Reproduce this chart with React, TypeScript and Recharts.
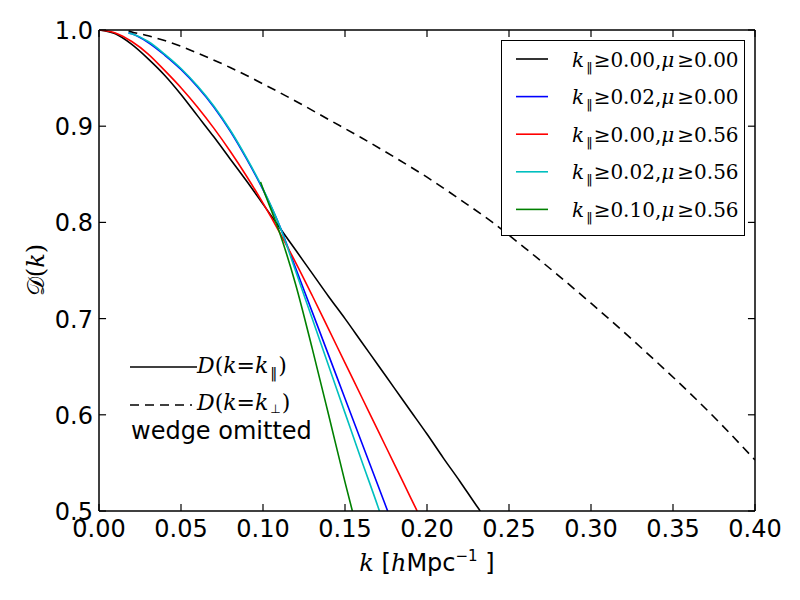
import React from "react";
import { LineChart, Line, XAxis, YAxis, Legend, ReferenceLine } from "recharts";

// window k >= k_par_min, mu >= mu_min
const kBlack = [0, 0.01, 0.02, 0.03, 0.04, 0.05, 0.06, 0.07, 0.08, 0.09, 0.1, 0.11, 0.12, 0.13, 0.14, 0.15, 0.16, 0.17, 0.18, 0.19, 0.2, 0.21, 0.22, 0.23, 0.2325];
const dBlack = [1.0, 0.996, 0.985, 0.97, 0.953, 0.933, 0.911, 0.889, 0.866, 0.843, 0.819, 0.795, 0.771, 0.747, 0.723, 0.7, 0.676, 0.652, 0.628, 0.604, 0.58, 0.555, 0.531, 0.506, 0.5];

const kBlue = [0.018, 0.02, 0.03, 0.04, 0.05, 0.06, 0.07, 0.08, 0.09, 0.1, 0.11, 0.12, 0.13, 0.14, 0.15, 0.16, 0.17, 0.176];
const dBlue = [0.997, 0.996, 0.987, 0.974, 0.959, 0.941, 0.92, 0.895, 0.866, 0.834, 0.797, 0.752, 0.707, 0.662, 0.617, 0.572, 0.527, 0.5];

const kRed = [0, 0.01, 0.02, 0.03, 0.04, 0.05, 0.06, 0.07, 0.08, 0.09, 0.1, 0.11, 0.12, 0.13, 0.14, 0.15, 0.16, 0.17, 0.18, 0.19, 0.194];
const dRed = [1.0, 0.997, 0.988, 0.975, 0.958, 0.94, 0.92, 0.898, 0.874, 0.848, 0.82, 0.79, 0.758, 0.724, 0.689, 0.654, 0.619, 0.584, 0.549, 0.514, 0.5];

const kCyan = [0.018, 0.02, 0.03, 0.04, 0.05, 0.06, 0.07, 0.08, 0.09, 0.1, 0.11, 0.12, 0.13, 0.14, 0.15, 0.16, 0.17, 0.171];
const dCyan = [0.997, 0.996, 0.988, 0.975, 0.96, 0.942, 0.921, 0.896, 0.867, 0.835, 0.797, 0.749, 0.7, 0.651, 0.602, 0.553, 0.505, 0.5];

const kGreen = [0.0985, 0.1, 0.11, 0.12, 0.13, 0.14, 0.15, 0.1545];
const dGreen = [0.842, 0.835, 0.79, 0.735, 0.669, 0.6, 0.53, 0.5];

// D(k = k_perp)
const kPerp = [0.018, 0.02, 0.03, 0.04, 0.05, 0.06, 0.08, 0.1, 0.12, 0.14, 0.16, 0.18, 0.2, 0.22, 0.24, 0.26, 0.28, 0.3, 0.32, 0.34, 0.36, 0.38, 0.4];
const dPerp = [0.999, 0.998, 0.994, 0.989, 0.983, 0.976, 0.961, 0.944, 0.926, 0.907, 0.888, 0.868, 0.847, 0.824, 0.8, 0.773, 0.745, 0.716, 0.686, 0.655, 0.623, 0.589, 0.553];

const kParMin = ["0.00", "0.02", "0.00", "0.02", "0.10"];
const muMin = ["0.00", "0.00", "0.56", "0.56", "0.56"];
const colors = ["#000000", "#0000ff", "#ff0000", "#00bfbf", "#008000"];

const xTicks = [0, 0.05, 0.1, 0.15, 0.2, 0.25, 0.3, 0.35, 0.4];
const yTicks = [0.5, 0.6, 0.7, 0.8, 0.9, 1.0];

const toPoints = (ks: number[], ds: number[]) => ks.map((k, i) => ({ k, d: ds[i] }));

const windows = [
  toPoints(kBlack, dBlack),
  toPoints(kBlue, dBlue),
  toPoints(kRed, dRed),
  toPoints(kCyan, dCyan),
  toPoints(kGreen, dGreen),
];

const SERIF = "DejaVu Serif";
const SANS = "DejaVu Sans";
const PAR = "\u2016";
const X_MARGIN = 9;
const Y_MARGIN = 7;
// inward tick length, in axis units (~7px)
const TICK_DY = 0.0073;
const TICK_DX = 0.0043;

const makeLabel = (side: "bottom" | "left", digits: number) => (props: any) => {
  const { x, y, payload } = props;
  const v = payload.value as number;
  if (side === "bottom") {
    return (
      <text x={x} y={y - X_MARGIN + 26} textAnchor="middle" fontSize={24} fontFamily={SANS} fill="#000">
        {v.toFixed(digits)}
      </text>
    );
  }
  return (
    <text x={x + Y_MARGIN - 6} y={y + 9} textAnchor="end" fontSize={24} fontFamily={SANS} fill="#000">
      {v.toFixed(digits)}
    </text>
  );
};

const XLabel = ({ viewBox }: any) => {
  const cx = viewBox.x + viewBox.width / 2;
  return (
    <text x={cx} y={571} textAnchor="middle" fontSize={24} fill="#000" fontFamily={SANS}>
      <tspan fontFamily={SERIF} fontStyle="italic">k</tspan>
      <tspan> [</tspan>
      <tspan fontFamily={SERIF} fontStyle="italic">h</tspan>
      <tspan>Mpc</tspan>
      <tspan fontSize={15} dy={-10}>−1</tspan>
      <tspan dy={10}> ]</tspan>
    </text>
  );
};

const YLabel = () => (
  <text x={44} y={270} transform="rotate(-90 44 270)" textAnchor="middle" fontSize={24} fill="#000" fontFamily={SERIF}>
    <tspan>𝒟(</tspan>
    <tspan fontStyle="italic">k</tspan>
    <tspan>)</tspan>
  </text>
);

const LegendBox = ({ payload }: any) => {
  const items = (payload || [])
    .filter((p: any) => p.type !== "none")
    .slice()
    .sort((a: any, b: any) => colors.indexOf(a.color) - colors.indexOf(b.color));
  return (
    <div style={{ boxSizing: "border-box", width: 244, height: 196, border: "1.5px solid #000", background: "#fff" }}>
      <svg width={241} height={193} style={{ display: "block" }}>
        {items.map((p: any, i: number) => {
          const cy = 18 + i * 37.6;
          const idx = Math.max(0, colors.indexOf(p.color));
          return (
            <g key={i}>
              <line x1={14} x2={46} y1={cy} y2={cy} stroke={p.color} strokeWidth={1.6} />
              <text x={70} y={cy + 7.5} fontSize={20} fill="#000" fontFamily={SERIF}>
                <tspan fontStyle="italic">k</tspan>
                <tspan fontSize={13} dy={5} dx={2} fontFamily={SANS}>{PAR}</tspan>
                <tspan dy={-5} dx={1}>≥{kParMin[idx]},</tspan>
                <tspan fontStyle="italic">μ</tspan>
                <tspan dx={3}>≥{muMin[idx]}</tspan>
              </text>
            </g>
          );
        })}
      </svg>
    </div>
  );
};

const StyleNote = () => (
  <svg width={800} height={600} style={{ position: "absolute", left: 0, top: 0, pointerEvents: "none" }}>
    <line x1={130} x2={197} y1={367} y2={367} stroke="#000" strokeWidth={1.6} />
    <text x={197} y={373} fontSize={22} fontFamily={SERIF} fill="#000">
      <tspan fontStyle="italic">D</tspan>
      <tspan>(</tspan>
      <tspan fontStyle="italic">k</tspan>
      <tspan>=</tspan>
      <tspan fontStyle="italic">k</tspan>
      <tspan fontSize={14} dy={5} dx={2} fontFamily={SANS}>{PAR}</tspan>
      <tspan dy={-5} dx={1}>)</tspan>
    </text>
    <line x1={130} x2={192} y1={405} y2={405} stroke="#000" strokeWidth={1.6} strokeDasharray="9 6" />
    <text x={197} y={410} fontSize={22} fontFamily={SERIF} fill="#000">
      <tspan fontStyle="italic">D</tspan>
      <tspan>(</tspan>
      <tspan fontStyle="italic">k</tspan>
      <tspan>=</tspan>
      <tspan fontStyle="italic">k</tspan>
      <tspan fontSize={12} dy={3} dx={2} fontFamily={SANS}>⊥</tspan>
      <tspan dy={-3} dx={1}>)</tspan>
    </text>
    <text x={131} y={439} fontSize={24} fontFamily={SANS} fill="#000">wedge omitted</text>
  </svg>
);

export default function App() {
  const tickMark = { stroke: "#000", strokeWidth: 1.2, ifOverflow: "visible" as const };
  return (
    <div style={{ position: "relative", width: 800, height: 600, background: "#fff" }}>
      <style>{"body{margin:0}"}</style>
      <LineChart width={800} height={600} margin={{ top: 29, right: 44, bottom: 29, left: 39 }}>
        <XAxis
          dataKey="k"
          type="number"
          domain={[0, 0.4]}
          ticks={xTicks}
          allowDataOverflow
          tick={makeLabel("bottom", 2)}
          tickLine={false}
          tickSize={0}
          tickMargin={X_MARGIN}
          height={60}
          stroke="#000"
          strokeWidth={1.5}
          label={<XLabel />}
        />
        <XAxis
          xAxisId="top"
          orientation="top"
          type="number"
          domain={[0, 0.4]}
          ticks={xTicks}
          tick={false}
          tickLine={false}
          height={1}
          stroke="#000"
          strokeWidth={1.5}
        />
        <YAxis
          type="number"
          domain={[0.5, 1.0]}
          ticks={yTicks}
          allowDataOverflow
          tick={makeLabel("left", 1)}
          tickLine={false}
          tickSize={0}
          tickMargin={Y_MARGIN}
          width={60}
          stroke="#000"
          strokeWidth={1.5}
          label={<YLabel />}
        />
        <YAxis
          yAxisId="right"
          orientation="right"
          type="number"
          domain={[0.5, 1.0]}
          ticks={yTicks}
          tick={false}
          tickLine={false}
          width={1}
          stroke="#000"
          strokeWidth={1.5}
        />
        {xTicks.map((t) => (
          <ReferenceLine key={`b${t}`} segment={[{ x: t, y: 0.5 }, { x: t, y: 0.5 + TICK_DY }]} {...tickMark} />
        ))}
        {xTicks.map((t) => (
          <ReferenceLine key={`t${t}`} segment={[{ x: t, y: 1.0 }, { x: t, y: 1.0 - TICK_DY }]} {...tickMark} />
        ))}
        {yTicks.map((t) => (
          <ReferenceLine key={`l${t}`} segment={[{ x: 0, y: t }, { x: TICK_DX, y: t }]} {...tickMark} />
        ))}
        {yTicks.map((t) => (
          <ReferenceLine key={`r${t}`} segment={[{ x: 0.4, y: t }, { x: 0.4 - TICK_DX, y: t }]} {...tickMark} />
        ))}
        {windows.map((pts, i) => (
          <Line
            key={i}
            data={pts}
            dataKey="d"
            name={`k${PAR}≥${kParMin[i]},μ≥${muMin[i]}`}
            type="monotone"
            stroke={colors[i]}
            strokeWidth={1.6}
            dot={false}
            activeDot={false}
            isAnimationActive={false}
          />
        ))}
        <Line
          data={toPoints(kPerp, dPerp)}
          dataKey="d"
          name="D(k=k⊥)"
          type="monotone"
          stroke="#000"
          strokeWidth={1.6}
          strokeDasharray="9 6"
          dot={false}
          activeDot={false}
          legendType="none"
          isAnimationActive={false}
        />
        <Legend
          layout="horizontal"
          align="center"
          verticalAlign="middle"
          content={<LegendBox />}
          wrapperStyle={{ position: "absolute", left: 501, top: 40, width: 244, height: 196 }}
        />
      </LineChart>
      <StyleNote />
    </div>
  );
}
